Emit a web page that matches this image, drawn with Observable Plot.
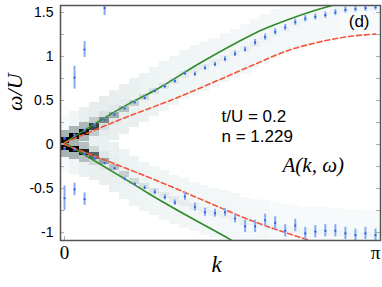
<!DOCTYPE html>
<html><head><meta charset="utf-8">
<script src="https://cdn.jsdelivr.net/npm/d3@7"></script>
<script src="https://cdn.jsdelivr.net/npm/@observablehq/plot@0.6"></script>
<style>body{margin:0;background:#fff;} #chart{width:382px;height:287px;}</style>
</head><body><div id="chart"></div>
<script>
// momentum grid index (k = i * pi / 31)
const kIndex = d3.range(32);
const kStep = Math.PI / 31;

// QMC peak positions (blue points with error bars)
const upperW = [0.07,0.10,0.16,0.22,0.28,0.34,0.41,0.48,0.53,0.61,0.66,0.72,0.81,0.80,0.87,0.91,0.97,1.03,1.08,1.16,1.22,1.28,1.33,1.39,1.43,1.45,1.47,1.50,1.53,1.54,1.55,1.56];
const upperErr = [0.02,0.02,0.02,0.02,0.02,0.02,0.02,0.02,0.02,0.02,0.02,0.02,0.025,0.025,0.025,0.025,0.03,0.03,0.03,0.035,0.035,0.035,0.035,0.035,0.035,0.035,0.035,0.035,0.035,0.035,0.035,0.035];
const lowerW = [-0.05,-0.06,-0.11,-0.16,-0.21,-0.27,-0.39,-0.45,-0.49,-0.54,-0.60,-0.66,-0.59,-0.71,-0.77,-0.78,-0.77,-0.84,-0.93,-0.93,-0.86,-0.89,-0.98,-0.92,-1.01,-0.99,-0.98,-0.98,-1.01,-1.03,-1.01,-1.03];
const lowerErr = [0.02,0.02,0.02,0.02,0.02,0.02,0.02,0.02,0.02,0.03,0.03,0.03,0.045,0.045,0.045,0.045,0.045,0.05,0.07,0.07,0.07,0.07,0.07,0.07,0.07,0.07,0.07,0.07,0.07,0.07,0.07,0.07];
// outlier (satellite) points at small k
const outIdx = [1, 2, 4, 0, 1, 2];
const outW = [0.76, 1.08, 1.55, -0.61, -0.51, -0.62];
const outErr = [0.13, 0.09, 0.085, 0.14, 0.07, 0.07];

// spectral function A(k, w): ridge positions, peak weights and broad haze per k column
const heatUpperPeak = [0.045,0.09,0.14,0.20,0.27,0.33,0.40,0.47,0.53,0.60,0.66,0.72,0.79,0.84,0.88,0.93,0.98,1.03,1.08,1.14,1.20,1.26,1.31,1.36,1.40,1.44,1.47,1.50,1.52,1.54,1.55,1.56];
const heatUpperWeight = [1,1,0.95,0.7,0.45,0.33,0.26,0.2,0.16,0.13,0.11,0.1,0.09,0.08,0.08,0.07,0.07,0.06,0.06,0.06,0.05,0.05,0.05,0.05,0.04,0.04,0.04,0.04,0.04,0.04,0.04,0.04];
const heatUpperHaze = [0.02,0.04,0.065,0.075,0.075,0.07,0.065,0.06,0.055,0.05,0.045,0.04,0.04,0.04,0.035,0.035,0.035,0.03,0.03,0.03,0.03,0.03,0.025,0.025,0.025,0.025,0.025,0.025,0.02,0.02,0.02,0.02];
const heatLowerPeak = [-0.035,-0.06,-0.09,-0.13,-0.19,-0.26,-0.34,-0.42,-0.48,-0.53,-0.58,-0.63,-0.67,-0.71,-0.75,-0.78,-0.80,-0.84,-0.88,-0.90,-0.92,-0.94,-0.96,-0.97,-0.99,-1.00,-1.00,-1.01,-1.02,-1.02,-1.03,-1.03];
const heatLowerWeight = [1,1,0.85,0.55,0.35,0.25,0.2,0.16,0.13,0.11,0.1,0.09,0.08,0.08,0.07,0.07,0.06,0.06,0.06,0.05,0.05,0.05,0.05,0.04,0.04,0.04,0.04,0.04,0.04,0.04,0.04,0.04];
const heatLowerHaze = [0.02,0.04,0.06,0.065,0.065,0.06,0.055,0.05,0.045,0.04,0.04,0.035,0.035,0.035,0.03,0.03,0.03,0.03,0.025,0.025,0.025,0.02,0.02,0.02,0.02,0.02,0.02,0.02,0.02,0.02,0.02,0.02];

// theory curves
const greenUpperK = [0, 0.667, 0.919, 1.374, 1.879, 1.98, 2.283, 2.704, 3.1416];
const greenUpperW = [0.02, 0.474, 0.62, 0.93, 1.24, 1.295, 1.43, 1.58, 1.68];
const greenLowerK = [0, 0.667, 0.87, 1.677, 1.9];
const greenLowerW = [0.02, -0.43, -0.57, -1.08, -1.22];
const redUpperK = [0, 0.667, 1.02, 1.98, 2.21, 2.553, 2.889, 3.1416];
const redUpperW = [0.02, 0.33, 0.48, 0.94, 1.05, 1.16, 1.23, 1.255];
const redLowerK = [0, 0.667, 1.02, 1.374, 1.879, 2.45, 2.7];
const redLowerW = [0.0, -0.29, -0.45, -0.62, -0.86, -1.08, -1.17];

// axes
const yTicks = [-1, -0.5, 0, 0.5, 1, 1.5];
const yTickLabels = ["-1", "-0.5", "0", "0.5", "1", "1.5"];
const yMinorTicks = [-1, -0.75, -0.5, -0.25, 0, 0.25, 0.5, 0.75, 1, 1.25, 1.5];
const xTicks = [0, Math.PI];
const xTickLabels = ["0", "π"];

// build tables
const pts = kIndex.map(i => ({k: i * kStep, w: upperW[i], e: upperErr[i]}))
  .concat(kIndex.map(i => ({k: i * kStep, w: lowerW[i], e: lowerErr[i]})))
  .concat(outIdx.map((i, j) => ({k: i * kStep, w: outW[j], e: outErr[j]})));

const cells = [];
const addLevel = (h, get) => {
  for (const i of kIndex) {
    cells.push({k: i * kStep, w1: heatUpperPeak[i] - h, w2: heatUpperPeak[i] + h, v: get(heatUpperWeight[i], heatUpperHaze[i])});
    cells.push({k: i * kStep, w1: heatLowerPeak[i] - h, w2: heatLowerPeak[i] + h, v: get(heatLowerWeight[i], heatLowerHaze[i])});
  }
};
addLevel(0.28, (w, hz) => hz);
addLevel(0.11, (w, hz) => Math.max(hz, 0.3 * w));
addLevel(0.035, (w, hz) => w);

const line = (K, W) => K.map((k, i) => ({k, w: W[i]}));

const serif = "'Liberation Serif', 'DejaVu Serif', serif";
const sans = "'Liberation Sans', Arial, sans-serif";

const chart = Plot.plot({
  width: 382, height: 287,
  marginLeft: 60, marginRight: 2, marginTop: 5, marginBottom: 47,
  x: {domain: [-0.0404, 3.192]},
  y: {domain: [-1.09, 1.58]},
  color: {type: "linear", domain: [0, 0.03, 0.1, 0.3, 0.6, 1], range: ["#ffffff", "#f3f7f7", "#e1e8e8", "#a9b4b4", "#4d5656", "#000000"]},
  style: {fontFamily: sans, background: "#fff"},
  marks: [
    Plot.rect(cells, {x1: d => d.k - kStep / 2, x2: d => d.k + kStep / 2, y1: "w1", y2: "w2", fill: "v", clip: true, shapeRendering: "crispEdges"}),
    Plot.line(line(greenUpperK, greenUpperW), {x: "k", y: "w", stroke: "#2f8a2a", strokeWidth: 1.6, curve: "monotone-x", clip: true}),
    Plot.line(line(greenLowerK, greenLowerW), {x: "k", y: "w", stroke: "#2f8a2a", strokeWidth: 1.6, curve: "monotone-x", clip: true}),
    Plot.line(line(redUpperK, redUpperW), {x: "k", y: "w", stroke: "#f2553a", strokeWidth: 1.6, strokeDasharray: "5,3", curve: "monotone-x", clip: true}),
    Plot.line(line(redLowerK, redLowerW), {x: "k", y: "w", stroke: "#f2553a", strokeWidth: 1.6, strokeDasharray: "5,3", curve: "monotone-x", clip: true}),
    Plot.ruleX(pts, {x: "k", y1: d => d.w - d.e, y2: d => d.w + d.e, stroke: "#86aaf2", strokeWidth: 2, clip: true}),
    Plot.dot(pts, {x: "k", y: "w", r: 1.1, fill: "#2a5fe0", stroke: null, clip: true}),
    Plot.tickY(yMinorTicks, {y: d => d, insetRight: 316, stroke: "#aaa"}),
    Plot.tickY(yMinorTicks, {y: d => d, insetLeft: 316, stroke: "#aaa"}),
    Plot.tickX(xTicks, {x: d => d, insetTop: 231, stroke: "#aaa"}),
    Plot.frame({stroke: "#555", strokeWidth: 1.5}),
    Plot.axisY(yTicks, {tickSize: 0, tickPadding: 7, tickFormat: d => yTickLabels[yTicks.indexOf(d)], fontSize: 14, fontFamily: sans, label: null}),
    Plot.axisX(xTicks, {tickSize: 0, tickPadding: 5, tickFormat: d => xTickLabels[xTicks.indexOf(d)], fontSize: 19, fontFamily: serif, label: null}),
    Plot.text(["ω/U"], {frameAnchor: "left", dx: -46, dy: -12, rotate: -90, fontSize: 22, fontFamily: serif, fontStyle: "italic"}),
    Plot.text(["k"], {frameAnchor: "bottom", dx: -4, dy: 31, fontSize: 23, fontFamily: serif, fontStyle: "italic"}),
    Plot.text(["(d)"], {frameAnchor: "top-right", dx: -11, dy: 16, textAnchor: "end", lineAnchor: "middle", fontSize: 17, fontFamily: sans}),
    Plot.text(["t/U = 0.2"], {frameAnchor: "top-left", dx: 161, dy: 111, textAnchor: "start", lineAnchor: "middle", fontSize: 17, fontFamily: sans}),
    Plot.text(["n = 1.229"], {frameAnchor: "top-left", dx: 161, dy: 131, textAnchor: "start", lineAnchor: "middle", fontSize: 17, fontFamily: sans}),
    Plot.text(["A(k, ω)"], {frameAnchor: "top-left", dx: 222, dy: 160, textAnchor: "start", lineAnchor: "middle", fontSize: 21, fontFamily: serif, fontStyle: "italic"})
  ]
});
document.getElementById("chart").appendChild(chart);
</script></body></html>
